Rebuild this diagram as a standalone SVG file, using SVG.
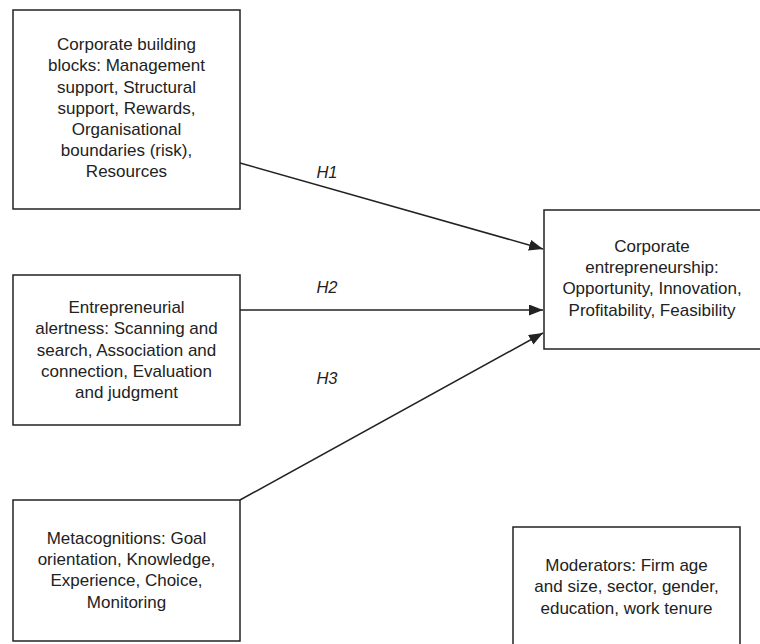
<svg xmlns="http://www.w3.org/2000/svg" width="760" height="644" viewBox="0 0 760 644">
<style>
.box{fill:#fff;stroke:#222;stroke-width:1.5}
.t{font-family:"Liberation Sans",Arial,sans-serif;font-size:17px;fill:#222;text-anchor:middle}
.h{font-family:"Liberation Sans",Arial,sans-serif;font-size:16.5px;font-style:italic;fill:#222;text-anchor:middle}
.c{stroke:#222;stroke-width:1.5;fill:none;marker-end:url(#ah)}
</style>
<defs>
<marker id="ah" viewBox="0 0 14 11" refX="14" refY="5.5" markerWidth="14" markerHeight="11" markerUnits="userSpaceOnUse" orient="auto">
<path d="M0,0 L14,5.5 L0,11 Z" fill="#222"/>
</marker>
</defs>
<rect width="760" height="644" fill="#fff"/>
<g id="connectors">
<line class="c" x1="240" y1="163" x2="543" y2="249"/>
<line class="c" x1="240" y1="310" x2="543" y2="310"/>
<line class="c" x1="240" y1="500" x2="543" y2="333"/>
<text class="h" x="327" y="178">H1</text>
<text class="h" x="327" y="293">H2</text>
<text class="h" x="327" y="384">H3</text>
</g>
<g id="building-blocks">
<rect class="box" x="13" y="10" width="227" height="199"/>
<text class="t" x="126.5" y="50">Corporate building</text>
<text class="t" x="126.5" y="71">blocks: Management</text>
<text class="t" x="126.5" y="93">support, Structural</text>
<text class="t" x="126.5" y="114">support, Rewards,</text>
<text class="t" x="126.5" y="135">Organisational</text>
<text class="t" x="126.5" y="156">boundaries (risk),</text>
<text class="t" x="126.5" y="177">Resources</text>
</g>
<g id="alertness">
<rect class="box" x="13" y="275" width="227" height="150"/>
<text class="t" x="126.5" y="313">Entrepreneurial</text>
<text class="t" x="126.5" y="334">alertness: Scanning and</text>
<text class="t" x="126.5" y="356">search, Association and</text>
<text class="t" x="126.5" y="377">connection, Evaluation</text>
<text class="t" x="126.5" y="398">and judgment</text>
</g>
<g id="metacognitions">
<rect class="box" x="13" y="500" width="227" height="141"/>
<text class="t" x="126.5" y="544">Metacognitions: Goal</text>
<text class="t" x="126.5" y="565">orientation, Knowledge,</text>
<text class="t" x="126.5" y="586">Experience, Choice,</text>
<text class="t" x="126.5" y="608">Monitoring</text>
</g>
<g id="corporate-entrepreneurship">
<rect class="box" x="544" y="210" width="220" height="139"/>
<text class="t" x="652" y="252">Corporate</text>
<text class="t" x="652" y="273">entrepreneurship:</text>
<text class="t" x="652" y="294">Opportunity, Innovation,</text>
<text class="t" x="652" y="316">Profitability, Feasibility</text>
</g>
<g id="moderators">
<rect class="box" x="513" y="527" width="227" height="122"/>
<text class="t" x="626.5" y="571">Moderators: Firm age</text>
<text class="t" x="626.5" y="592">and size, sector, gender,</text>
<text class="t" x="626.5" y="614">education, work tenure</text>
</g>
</svg>
